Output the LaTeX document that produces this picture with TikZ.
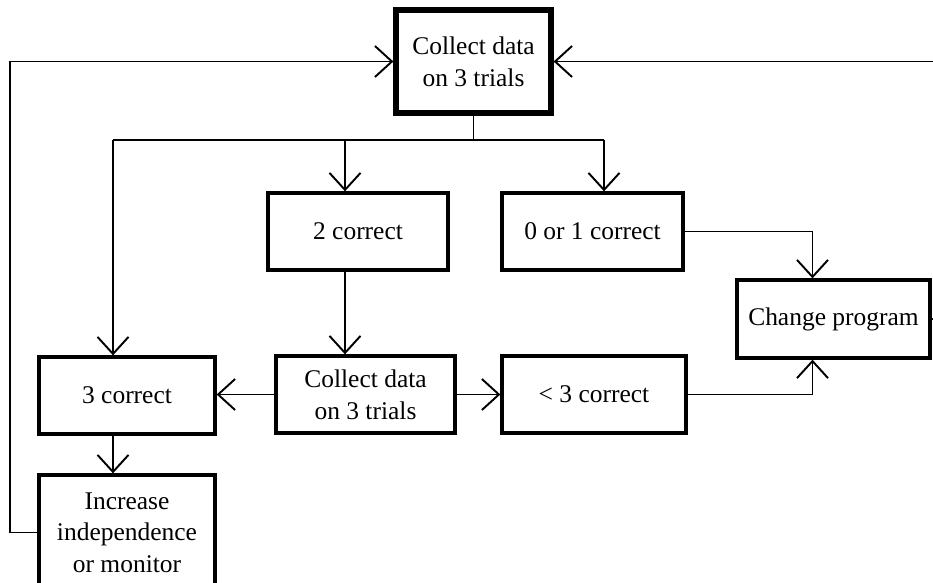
\documentclass[tikz,border=0pt]{standalone}
\usepackage{fontspec}
\setmainfont{Liberation Serif}
\usepackage{tikz}
\usetikzlibrary{positioning, arrows.meta, calc}

\begin{document}
\begin{tikzpicture}[x=0.02cm, y=-0.02cm,
  box/.style={draw, line width=1.9pt, align=center, inner sep=0pt, minimum height=1.54cm, font=\fontsize{14.5pt}{18pt}\selectfont},
  topbox/.style={box, line width=3pt},
  line/.style={line width=1.1pt},
  flow/.style={line, -{Straight Barb[length=3.4mm, width=6.2mm, line width=1.1pt]}}
]
  \useasboundingbox (0,0) rectangle (933,582);
  \clip (0,0) rectangle (933,582);

  % 顶部：收集数据
  \node[topbox, minimum width=3.1cm, minimum height=2.06cm] (collectA) at (473.5,61.5) {Collect data\\on 3 trials};
  % 第一次结果
  \node[box, minimum width=3.6cm] (two) at (358,231.5) {2 correct};
  \node[box, minimum width=3.62cm] (zeroone) at (592.5,231.5) {0 or 1 correct};
  \node[box, minimum width=3.86cm, minimum height=1.56cm] (change) at (833.5,319) {Change program};
  % 第二行
  \node[box, minimum width=3.52cm] (three) at (127,395.5) {3 correct};
  \node[box, minimum width=3.58cm] (collectB) at (365.5,394.5) {Collect data\\on 3 trials};
  \node[box, minimum width=3.68cm] (less) at (594,394.5) {< 3 correct};
  \node[box, minimum width=3.52cm, minimum height=2.3cm] (increase) at (127,532.5) {Increase\\independence\\or monitor};

  % 分叉点
  \coordinate (split) at (473.5,140);
  \coordinate (splitL) at (113,140);
  \coordinate (splitM) at (345,140);
  \coordinate (splitR) at (604,140);
  \coordinate (loopL) at (10,61.5);
  \coordinate (loopR) at (945,61.5);

  % 向下分支
  \draw[line] (collectA.south) -- (split);
  \draw[line] (splitL) -- (splitR);
  \draw[flow] (splitL) -- (splitL |- three.north);
  \draw[flow] (splitM) -- (splitM |- two.north);
  \draw[flow] (splitR) -- (splitR |- zeroone.north);

  % 第二次收集
  \draw[flow] (two.south -| splitM) -- (splitM |- collectB.north);
  \draw[flow] (collectB.west) -- (collectB.west -| three.east);
  \draw[flow] (collectB.east) -- (collectB.east -| less.west);

  % 改变程序
  \draw[flow] (zeroone.east) -| ($(change.north)+(-21,0)$);
  \draw[flow] (less.east) -| ($(change.south)+(-21,0)$);

  % 回路
  \draw[flow] (three.south -| splitL) -- (splitL |- increase.north);
  \draw[flow] (increase.west) -| (loopL) -- (collectA.west);
  \draw[flow] (change.east) -| (loopR) -- (collectA.east);
\end{tikzpicture}
\end{document}
